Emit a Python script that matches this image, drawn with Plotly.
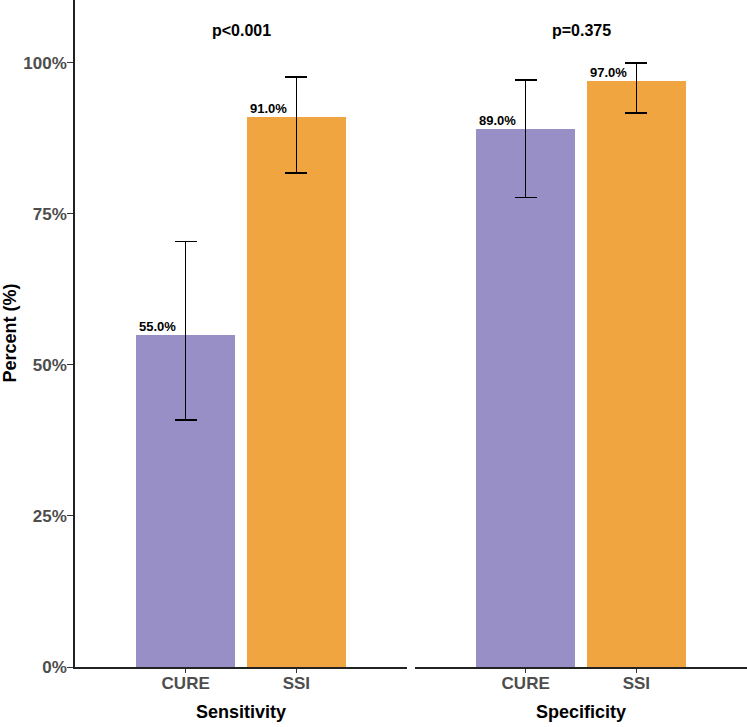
import plotly.graph_objects as go

groups = ["CURE", "SSI"]
metrics = ["Sensitivity", "Specificity"]
p_values = ["p<0.001", "p=0.375"]
sens_values = [55.0, 91.0]
sens_low = [40.9, 81.8]
sens_high = [70.4, 97.7]
spec_values = [89.0, 97.0]
spec_low = [77.7, 91.7]
spec_high = [97.2, 100.0]
colors = ["#998FC7", "#F0A541"]
yticks = [0, 25, 50, 75, 100]

FONT = "Liberation Sans, Arial, sans-serif"
fig = go.Figure()
xpos = [1, 2]
panels = [(sens_values, sens_low, sens_high, "x", "y"),
          (spec_values, spec_low, spec_high, "x2", "y2")]
for vals, lo, hi, xa, ya in panels:
    fig.add_trace(go.Bar(
        x=xpos, y=vals, width=0.9, marker=dict(color=colors, line=dict(width=0)),
        error_y=dict(type="data", symmetric=False,
                     array=[h - v for h, v in zip(hi, vals)],
                     arrayminus=[v - l for v, l in zip(vals, lo)],
                     color="black", thickness=1.6, width=11),
        xaxis=xa, yaxis=ya, showlegend=False, hoverinfo="skip"))
    for xi, v in zip(xpos, vals):
        fig.add_annotation(x=xi - 0.45, y=v, xref=xa, yref=ya, text=f"<b>{v:.1f}%</b>",
                           showarrow=False, xanchor="left", yanchor="bottom", xshift=1, yshift=-1,
                           font=dict(family=FONT, size=13, color="black"))

plot_w = 747 - 75
dom1 = [0, 332 / plot_w]
dom2 = [340 / plot_w, 1]
for i, (dom, metric, pv) in enumerate(zip([dom1, dom2], metrics, p_values)):
    xa = "xaxis" if i == 0 else "xaxis2"
    ya = "yaxis" if i == 0 else "yaxis2"
    fig.layout[xa] = dict(domain=dom, range=[0, 3], tickvals=xpos, ticktext=groups,
                          showline=True, linecolor="#222", linewidth=1.5,
                          ticks="outside", ticklen=4, tickcolor="#333", tickwidth=1,
                          ticklabelstandoff=-4,
                          tickfont=dict(family=FONT, size=17, color="#4D4D4D", weight="bold"),
                          showgrid=False, zeroline=False, fixedrange=True, anchor="y" if i == 0 else "y2")
    fig.layout[ya] = dict(range=[0, 110.4], tickvals=yticks,
                          ticktext=[f"{t}%" for t in yticks],
                          showline=(i == 0), linecolor="#222", linewidth=1.5,
                          ticks="outside" if i == 0 else "", ticklen=6, tickcolor="#333",
                          showticklabels=(i == 0), ticklabelstandoff=-3,
                          tickfont=dict(family=FONT, size=17, color="#4D4D4D", weight="bold"),
                          showgrid=False, zeroline=False, anchor="x" if i == 0 else "x2")
    fig.add_annotation(x=1.5, y=0, xref="x" if i == 0 else "x2", yref="paper",
                       text=f"<b>{metric}</b>", showarrow=False, xanchor="center",
                       yanchor="middle", yshift=-45,
                       font=dict(family=FONT, size=18, color="black"))
    fig.add_annotation(x=1.5, y=105.4, xref="x" if i == 0 else "x2",
                       yref="y" if i == 0 else "y2", text=f"<b>{pv}</b>",
                       showarrow=False, xanchor="center", yanchor="middle",
                       font=dict(family=FONT, size=16, color="black"))

fig.add_annotation(x=0, y=0.5, xref="paper", yref="paper", text="<b>Percent (%)</b>",
                   textangle=-90, showarrow=False, xanchor="center", yanchor="middle",
                   xshift=-66, font=dict(family=FONT, size=18, color="black"))

fig.update_layout(width=747, height=727, margin=dict(l=75, r=0, t=0, b=60),
                  plot_bgcolor="white", paper_bgcolor="white", bargap=0)
fig.write_html("out.html")
